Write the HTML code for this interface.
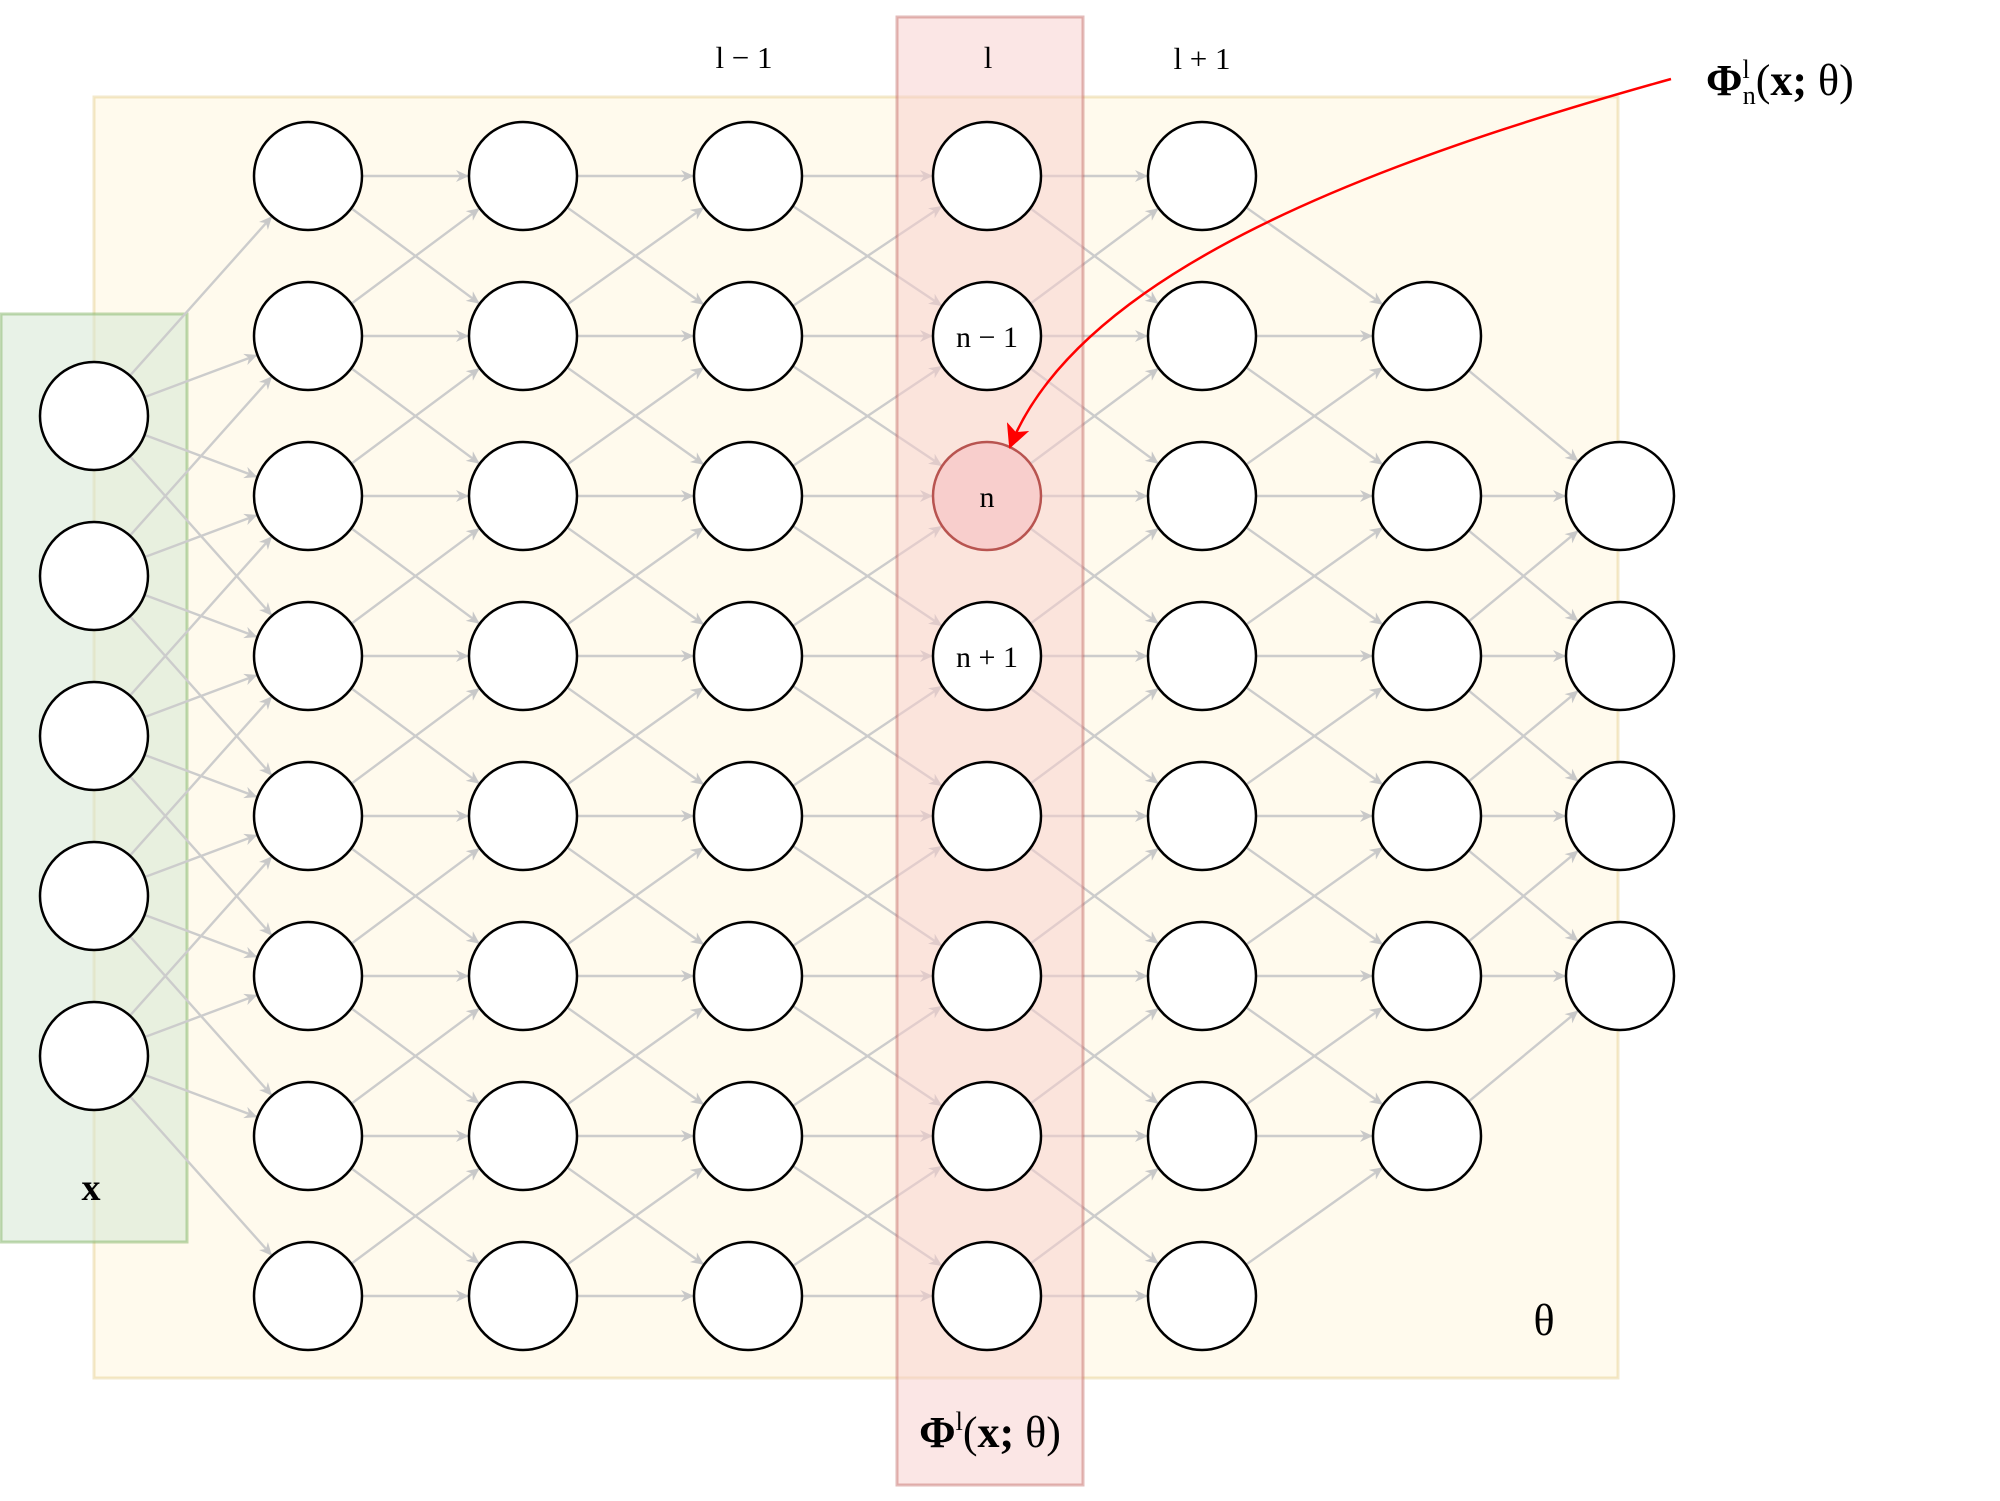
<!DOCTYPE html>
<html><head><meta charset="utf-8"><style>
html,body{margin:0;padding:0;background:#fff;width:2000px;height:1501px;overflow:hidden}
svg{display:block}
text{font-family:"Liberation Serif",serif;fill:#000}
</style></head><body>
<svg id="s" width="2000" height="1501" viewBox="0 0 2000 1501" xmlns="http://www.w3.org/2000/svg">
<defs>
<marker id="ag" markerWidth="13" markerHeight="12" refX="12" refY="6" orient="auto" markerUnits="userSpaceOnUse"><path d="M0,0 L13,6 L0,12 L4,6 z" fill="#c8c8c8"/></marker>
<marker id="ar" markerWidth="24" markerHeight="24" refX="22" refY="12" orient="auto" markerUnits="userSpaceOnUse"><path d="M0,0 L24,12 L0,24 L6,12 z" fill="#ff0000"/></marker>
</defs>
<rect x="94" y="97" width="1524" height="1281" fill="#fff2cc" fill-opacity="0.35" stroke="#d6b656" stroke-opacity="0.3" stroke-width="3"/>
<rect x="1" y="314" width="186" height="928" fill="#d5e8d4" fill-opacity="0.55" stroke="#82b366" stroke-opacity="0.5" stroke-width="3"/>
<g id="edges"></g>
<rect x="897" y="17" width="186" height="1468" fill="#f8cecc" fill-opacity="0.5" stroke="#b85450" stroke-opacity="0.4" stroke-width="3"/>
<g id="nodes"></g>
<path d="M1671 79 C 1380 160, 1080 270, 1010 447" fill="none" stroke="#ff0000" stroke-width="2.5" marker-end="url(#ar)"/>
<text x="744" y="68" font-size="31" text-anchor="middle">l − 1</text>
<text x="988" y="68" font-size="31" text-anchor="middle">l</text>
<text x="1202" y="69" font-size="31" text-anchor="middle">l + 1</text>
<text x="987" y="347" font-size="30" text-anchor="middle">n − 1</text>
<text x="987" y="507" font-size="30" text-anchor="middle">n</text>
<text x="987" y="667" font-size="30" text-anchor="middle">n + 1</text>
<text x="91" y="1200" font-size="38" font-weight="bold" text-anchor="middle">x</text>
<text x="1544" y="1335" font-size="44" text-anchor="middle">θ</text>
<text x="990" y="1447" font-size="44" text-anchor="middle"><tspan font-weight="bold">Φ</tspan><tspan font-size="26" dy="-17">l</tspan><tspan dy="17">(</tspan><tspan font-weight="bold">x;</tspan> θ)</text>
<text x="1706" y="95" font-size="44"><tspan font-weight="bold">Φ</tspan><tspan font-size="26" dy="-17">l</tspan><tspan font-size="26" dx="-7" dy="26">n</tspan><tspan dy="-9">(</tspan><tspan font-weight="bold">x;</tspan> θ)</text>
</svg>
<script>
var NS="http://www.w3.org/2000/svg";
var cx=[308,523,748,987,1202,1427,1620];
var ry=[176,336,496,656,816,976,1136,1296];
var R=54;
var cols=[];
cols.push([416,576,736,896,1056].map(function(y){return [94,y];}));
var rows=[[0,1,2,3,4,5,6,7],[0,1,2,3,4,5,6,7],[0,1,2,3,4,5,6,7],[0,1,2,3,4,5,6,7],[0,1,2,3,4,5,6,7],[1,2,3,4,5,6],[2,3,4,5]];
for(var c=0;c<7;c++){cols.push(rows[c].map(function(r){return [cx[c],ry[r],r];}));}
var E=document.getElementById('edges'),N=document.getElementById('nodes');
function edge(a,b){var dx=b[0]-a[0],dy=b[1]-a[1],d=Math.sqrt(dx*dx+dy*dy),ux=dx/d,uy=dy/d;
var l=document.createElementNS(NS,'line');l.setAttribute('x1',a[0]+ux*R);l.setAttribute('y1',a[1]+uy*R);
l.setAttribute('x2',b[0]-ux*(R+1));l.setAttribute('y2',b[1]-uy*(R+1));l.setAttribute('stroke','#cccccc');l.setAttribute('stroke-width','2.4');l.setAttribute('marker-end','url(#ag)');E.appendChild(l);}
cols[0].forEach(function(a,i){for(var k=0;k<4;k++){edge(a,[cx[0],ry[i+k]]);}});
for(var c=1;c<7;c++){cols[c].forEach(function(a){cols[c+1]&&cols[c+1].forEach(function(b){if(Math.abs(b[2]-a[2])<=1)edge(a,b);});});}
cols.forEach(function(col,ci){col.forEach(function(p){var e=document.createElementNS(NS,'circle');e.setAttribute('cx',p[0]);e.setAttribute('cy',p[1]);e.setAttribute('r',R);
var red=(ci==4&&p[2]==2);e.setAttribute('fill',red?'#f8cecc':'#fff');e.setAttribute('stroke',red?'#b85450':'#000');e.setAttribute('stroke-width','2.5');N.appendChild(e);});});
</script>
</body></html>
